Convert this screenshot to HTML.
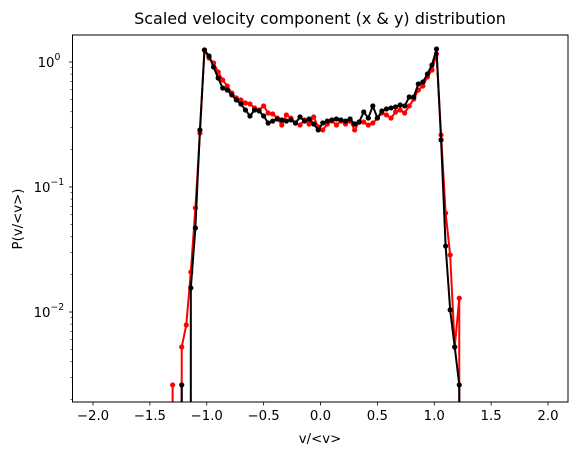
<!DOCTYPE html>
<html><head><meta charset="utf-8"><style>
html,body{margin:0;padding:0;background:#fff;width:578px;height:455px;overflow:hidden;}
svg{display:block;overflow:hidden;font-family:"DejaVu Sans","Liberation Sans",sans-serif;}
</style></head><body>
<svg id="chart" width="578" height="455" viewBox="0 0 578 455">
<defs><clipPath id="clip"><rect x="72.5" y="35" width="495.5" height="367"/></clipPath></defs>
<text x="320" y="24" text-anchor="middle" font-size="16">Scaled velocity component (x &amp; y) distribution</text>
<g id="axes"></g>
<g id="series" clip-path="url(#clip)"></g>
<rect x="72.5" y="35" width="495.5" height="367" fill="none" stroke="#000" stroke-width="1"/>
<text x="320" y="443" text-anchor="middle" font-size="13.3">v/&lt;v&gt;</text>
<text transform="translate(22,219) rotate(-90)" text-anchor="middle" font-size="13.3">P(v/&lt;v&gt;)</text>
</svg>
<script>
const xTicks = [-2.0,-1.5,-1.0,-0.5,0.0,0.5,1.0,1.5,2.0];
const xTickLabels = ["−2.0","−1.5","−1.0","−0.5","0.0","0.5","1.0","1.5","2.0"];
const yDecades = [-2,-1,0];
const redX = [-1.34,-1.30,-1.26,-1.22,-1.18,-1.14,-1.10,-1.06,-1.02,-0.98,-0.94,-0.90,-0.86,-0.82,-0.78,-0.74,-0.70,-0.66,-0.62,-0.58,-0.54,-0.50,-0.46,-0.42,-0.38,-0.34,-0.30,-0.26,-0.22,-0.18,-0.14,-0.10,-0.06,-0.02,0.02,0.06,0.10,0.14,0.18,0.22,0.26,0.30,0.34,0.38,0.42,0.46,0.50,0.54,0.58,0.62,0.66,0.70,0.74,0.78,0.82,0.86,0.90,0.94,0.98,1.02,1.06,1.10,1.14,1.18,1.22,1.26];
const redY = [0,0.00261,0,0.00525,0.00787,0.0209,0.0679,0.27,1.247,1.076,0.982,0.832,0.718,0.643,0.565,0.515,0.497,0.470,0.461,0.429,0.413,0.445,0.391,0.384,0.356,0.313,0.377,0.356,0.325,0.313,0.344,0.319,0.363,0.302,0.286,0.319,0.337,0.313,0.337,0.319,0.337,0.286,0.331,0.331,0.313,0.325,0.356,0.391,0.377,0.356,0.398,0.413,0.391,0.445,0.506,0.597,0.643,0.759,0.863,1.16,0.261,0.0619,0.0286,0.00525,0.0129,0];
const blackX = [-1.26,-1.22,-1.18,-1.14,-1.10,-1.06,-1.02,-0.98,-0.94,-0.90,-0.86,-0.82,-0.78,-0.74,-0.70,-0.66,-0.62,-0.58,-0.54,-0.50,-0.46,-0.42,-0.38,-0.34,-0.30,-0.26,-0.22,-0.18,-0.14,-0.10,-0.06,-0.02,0.02,0.06,0.10,0.14,0.18,0.22,0.26,0.30,0.34,0.38,0.42,0.46,0.50,0.54,0.58,0.62,0.66,0.70,0.74,0.78,0.82,0.86,0.90,0.94,0.98,1.02,1.06,1.10,1.14,1.18,1.22,1.26];
const blackY = [0,0.00261,0,0.0156,0.0470,0.286,1.247,1.117,0.912,0.745,0.619,0.597,0.545,0.497,0.461,0.413,0.370,0.413,0.406,0.370,0.325,0.337,0.350,0.344,0.337,0.344,0.325,0.363,0.337,0.350,0.319,0.286,0.325,0.337,0.344,0.350,0.344,0.337,0.350,0.319,0.331,0.398,0.356,0.445,0.356,0.406,0.421,0.429,0.437,0.453,0.445,0.525,0.525,0.667,0.692,0.802,0.946,1.27,0.238,0.0337,0.0104,0.00525,0.00261,0];

const NS='http://www.w3.org/2000/svg';
const X0=72.5,X1=568,Y0=35,Y1=402;
function sx(v){return 320.5+v*113.75;}
function sy(v){return 62-Math.log10(v)*125;}
function mk(tag,attrs,parent){const e=document.createElementNS(NS,tag);for(const k in attrs)e.setAttribute(k,attrs[k]);parent.appendChild(e);return e;}
const axes=document.getElementById('axes');
xTicks.forEach((t,i)=>{
  const x=sx(t);
  const tk=mk('line',{x1:x,x2:x,y1:Y1,y2:Y1+3.5,stroke:'#000','stroke-width':0.8},axes);
  
  
  const lb=mk('text',{x:x,y:Y1+18,'text-anchor':'middle','font-size':13.3},axes);
  lb.textContent=xTickLabels[i];
  
  
});
yDecades.forEach(d=>{
  const y=sy(Math.pow(10,d));
  const tk=mk('line',{x1:X0-3.5,x2:X0,y1:y,y2:y,stroke:'#000','stroke-width':0.8},axes);
  
  
  const lb=mk('text',{x:d===0?X0-18:X0-22,y:y+5,'text-anchor':'end','font-size':13.3},axes);
  lb.textContent='10';
  
  
  const sup=mk('text',{x:d===0?X0-18:X0-22,y:y-2,'text-anchor':'start','font-size':9.3},axes);
  sup.textContent=d===0?'0':'−'+Math.abs(d);
  
  
});
for(let d=-3;d<=0;d++){for(let m=2;m<=9;m++){const y=sy(m*Math.pow(10,d));if(y>=Y0&&y<=Y1){
  const tk=mk('line',{x1:X0-2,x2:X0,y1:y,y2:y,stroke:'#000','stroke-width':0.6},axes);
  
  
}}}
const series=document.getElementById('series');
function draw(xs,ys,color,name){
  let d='';
  for(let i=0;i<xs.length-1;i++){
    const a=ys[i],b=ys[i+1];
    if(a>0&&b>0){d+='M'+sx(xs[i]).toFixed(2)+','+sy(a).toFixed(2)+'L'+sx(xs[i+1]).toFixed(2)+','+sy(b).toFixed(2);}
    else if(a>0){d+='M'+sx(xs[i]).toFixed(2)+','+sy(a).toFixed(2)+'L'+sx(xs[i]).toFixed(2)+','+(Y1+3);}
    else if(b>0){d+='M'+sx(xs[i+1]).toFixed(2)+','+(Y1+3)+'L'+sx(xs[i+1]).toFixed(2)+','+sy(b).toFixed(2);}
  }
  const pl=mk('path',{d:d,fill:'none',stroke:color,'stroke-width':2,'stroke-linejoin':'round','stroke-linecap':'butt'},series);
  
  
  xs.forEach((x,i)=>{if(ys[i]>0){
    const c=mk('circle',{cx:sx(x),cy:sy(ys[i]),r:2.6,fill:color},series);
    
    
  }});
}
draw(redX,redY,'#ff0000','red-series');
draw(blackX,blackY,'#000000','black-series');
</script>
</body></html>
